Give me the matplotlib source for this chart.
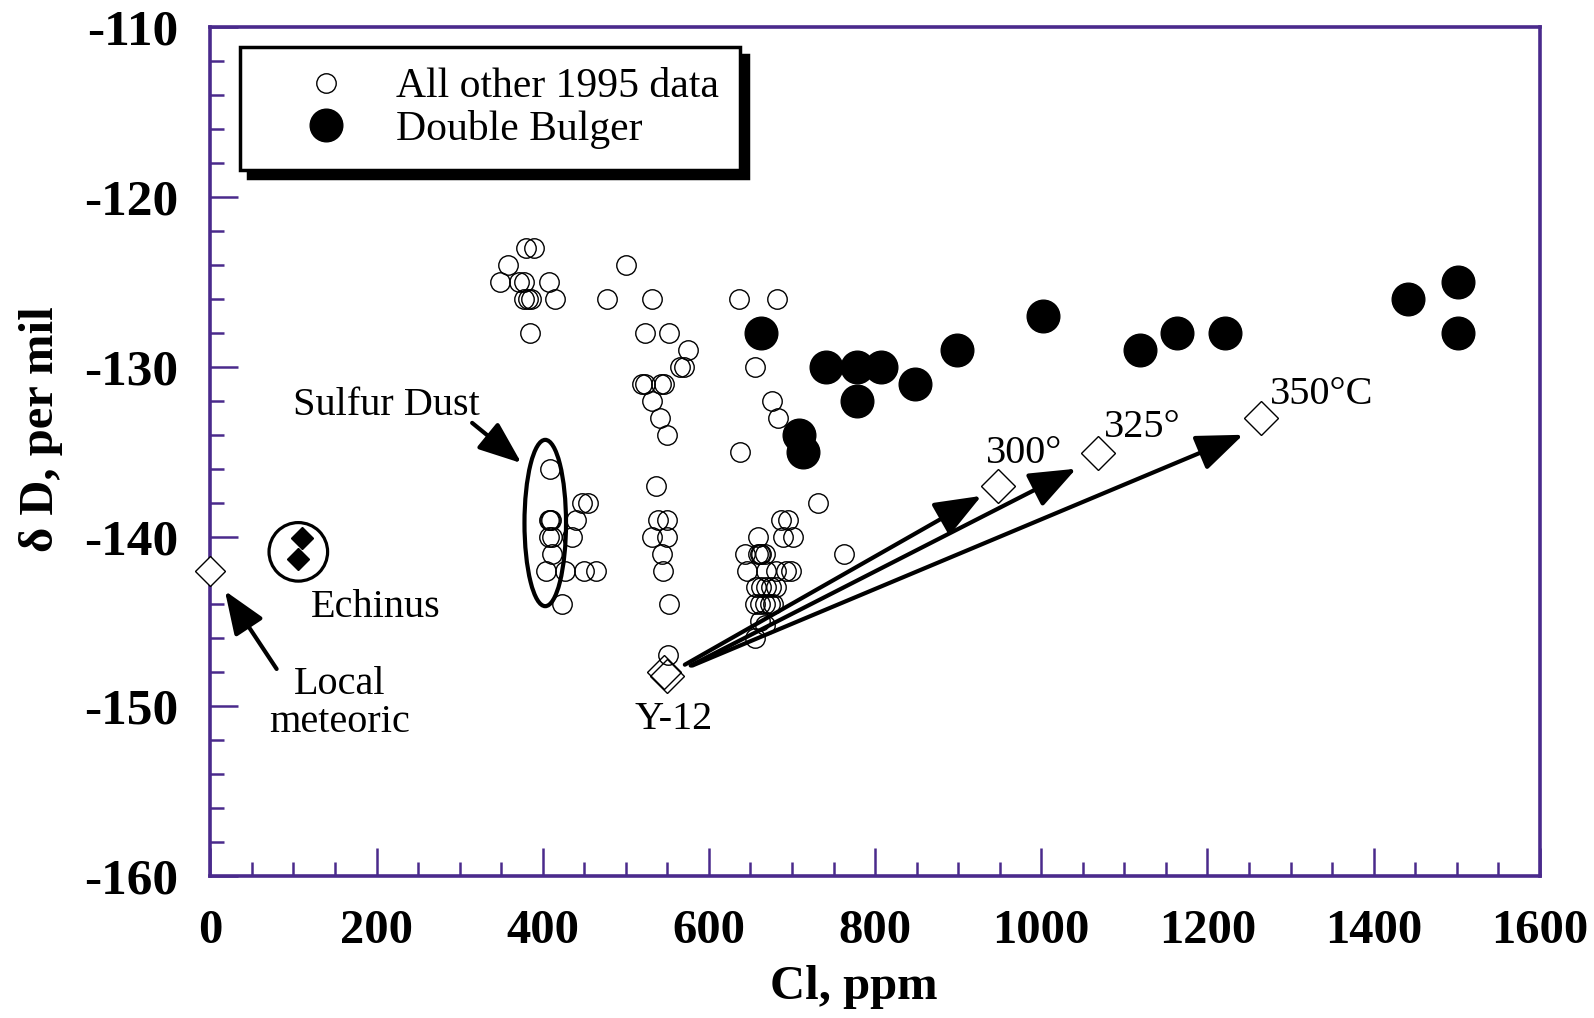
import matplotlib
matplotlib.use("Agg")
import matplotlib.pyplot as plt
from matplotlib.patches import Ellipse

# ---------------- data ----------------
other_cl = [380, 390, 358, 348, 372, 378, 408, 378, 382, 386, 415, 477, 500, 385,
            523, 552, 532, 575, 565, 570, 520, 523, 542, 546, 532, 541, 549, 536,
            539, 549, 531, 549, 543, 545, 552, 551,
            409, 447, 454, 407, 409, 410, 440, 407, 411, 435, 411, 404, 427, 450, 464, 423,
            636, 682, 656, 676, 683, 637, 731, 763, 687, 695, 659, 689, 701,
            643, 659, 661, 663, 668, 646, 669, 681, 693, 699,
            657, 663, 669, 675, 681, 655, 661, 667, 673, 677, 661, 667, 655]
other_dd = [-123, -123, -124, -125, -125, -125, -125, -126, -126, -126, -126, -126, -124, -128,
            -128, -128, -126, -129, -130, -130, -131, -131, -131, -131, -132, -133, -134, -137,
            -139, -139, -140, -140, -141, -142, -144, -147,
            -136, -138, -138, -139, -139, -139, -139, -140, -140, -140, -141, -142, -142, -142, -142, -144,
            -126, -126, -130, -132, -133, -135, -138, -141, -139, -139, -140, -140, -140,
            -141, -141, -141, -141, -141, -142, -142, -142, -142, -142,
            -143, -143, -143, -143, -143, -144, -144, -144, -144, -144, -145, -145.2, -146]

bulger_cl = [663, 741, 778, 807, 778, 709, 713, 848, 898, 1002, 1119, 1163, 1221, 1441, 1501, 1502]
bulger_dd = [-128, -130, -130, -130, -132, -134, -135, -131, -129, -127, -129, -128, -128, -126, -125, -128]

meteoric_cl = [0]
meteoric_dd = [-142]

echinus_cl = [110, 105]
echinus_dd = [-140.1, -141.3]

y12_cl = [546, 549]
y12_dd = [-148.0, -148.2]

temp_labels = ["300°", "325°", "350°C"]
temp_cl = [948, 1068, 1264]
temp_dd = [-137.0, -135.1, -133.0]
arrow_start_cl = [571, 578, 580]
arrow_start_dd = [-147.55, -147.6, -147.6]
arrow_end_cl = [928, 1042, 1243]
arrow_end_dd = [-137.6, -136.0, -134.0]

xticks = [0, 200, 400, 600, 800, 1000, 1200, 1400, 1600]
yticks = [-110, -120, -130, -140, -150, -160]

# ---------------- style ----------------
purple = "#4a2a8c"
serif = ["Liberation Serif", "DejaVu Serif"]
plt.rcParams["font.family"] = serif
plt.rcParams["axes.unicode_minus"] = False

fig = plt.figure(figsize=(15.94, 10.18), dpi=100)
ax = fig.add_axes([0.132, 0.1395, 0.834, 0.8335])

ax.set_xlim(0, 1600)
ax.set_ylim(-160, -110)

for s in ax.spines.values():
    s.set_color(purple)
    s.set_linewidth(2.6)

ax.set_xticks(xticks)
ax.set_yticks(yticks)
ax.set_xticks(range(0, 1601, 50), minor=True)
ax.set_yticks(range(-160, -109, 2), minor=True)
ax.tick_params(which="both", direction="in", color=purple, width=1.8,
               top=False, right=False)
ax.tick_params(which="major", length=20, labelsize=35)
ax.tick_params(which="minor", length=10)
ax.tick_params(axis="y", which="major", pad=23, labelsize=37)
ax.tick_params(axis="x", which="major", pad=24)
for lab in ax.get_xticklabels() + ax.get_yticklabels():
    lab.set_fontweight("bold")

ax.set_xlabel("Cl, ppm", fontsize=35, fontweight="bold")
ax.set_ylabel("δ D, per mil", fontsize=35, fontweight="bold")
ax.xaxis.set_label_coords(0.484, -0.105)
ax.yaxis.set_label_coords(-0.111, 0.527)

# ---------------- marks ----------------
ax.plot(other_cl, other_dd, linestyle="none", marker="o", markersize=14,
        markerfacecolor="none", markeredgecolor="black", markeredgewidth=1.0,
        label="All other 1995 data", zorder=3)
ax.plot(bulger_cl, bulger_dd, linestyle="none", marker="o", markersize=23.5,
        markerfacecolor="black", markeredgecolor="black",
        label="Double Bulger", zorder=4)
ax.plot(meteoric_cl, meteoric_dd, linestyle="none", marker="D", markersize=15,
        markerfacecolor="white", markeredgecolor="black", markeredgewidth=1.0,
        clip_on=False, zorder=5)
ax.plot(echinus_cl, echinus_dd, linestyle="none", marker="D", markersize=11,
        markerfacecolor="black", markeredgecolor="black", zorder=5)
ax.plot(y12_cl, y12_dd, linestyle="none", marker="D", markersize=17.5,
        markerfacecolor="none", markeredgecolor="black", markeredgewidth=1.0, zorder=5)
ax.plot(temp_cl, temp_dd, linestyle="none", marker="D", markersize=17,
        markerfacecolor="white", markeredgecolor="black", markeredgewidth=1.0, zorder=5)

# ellipses
ax.add_patch(Ellipse((403, -139.2), 50, 9.8, fill=False, edgecolor="black",
                     linewidth=3.0, zorder=6))
ax.add_patch(Ellipse((105.8, -140.9), 70.5, 3.45, fill=False, edgecolor="black",
                     linewidth=2.3, zorder=6))

# temperature arrows
for x0, y0, x1, y1 in zip(arrow_start_cl, arrow_start_dd, arrow_end_cl, arrow_end_dd):
    ax.annotate("", xy=(x1, y1), xytext=(x0, y0),
                arrowprops=dict(arrowstyle="-|>,head_length=1.15,head_width=0.45",
                                mutation_scale=25, color="black", linewidth=3.0,
                                shrinkA=0, shrinkB=0), zorder=7)

# temperature labels
temp_text_pos = [(933, -135.1), (1076, -133.55), (1275, -131.6)]
for lab, (tx, ty) in zip(temp_labels, temp_text_pos):
    ax.text(tx, ty, lab, fontsize=29, ha="left", va="center")

ax.text(558, -150.8, "Y-12", fontsize=29, ha="center", va="center")
ax.text(212, -132.25, "Sulfur Dust", fontsize=29, ha="center", va="center")
ax.text(199, -144.2, "Echinus", fontsize=29, ha="center", va="center")
ax.text(155, -149.85, "Local\nmeteoric", fontsize=29, ha="center", va="center",
        linespacing=1.05)

ax.annotate("", xy=(374.3, -135.67), xytext=(315, -133.3),
            arrowprops=dict(arrowstyle="-|>,head_length=1.15,head_width=0.45",
                            mutation_scale=23, color="black", linewidth=3.0,
                            shrinkA=0, shrinkB=0), zorder=7)
ax.annotate("", xy=(17.5, -143.2), xytext=(79.7, -147.8),
            arrowprops=dict(arrowstyle="-|>,head_length=1.15,head_width=0.45",
                            mutation_scale=23, color="black", linewidth=3.0,
                            shrinkA=0, shrinkB=0), zorder=7)

# legend
leg = ax.legend(loc="upper left", bbox_to_anchor=(0.0222, 0.977), fontsize=30,
                frameon=True, fancybox=False, borderpad=0.5, handlelength=3.15,
                handletextpad=0.1, labelspacing=0.08, borderaxespad=0.0,
                shadow={"ox": 6, "oy": -6, "facecolor": "black", "edgecolor": "black", "alpha": 1})
leg.get_frame().set_edgecolor("black")
leg.get_frame().set_linewidth(2.5)
leg.get_frame().set_alpha(1)
leg.set_zorder(10)

fig.savefig("out.png", dpi=100)
